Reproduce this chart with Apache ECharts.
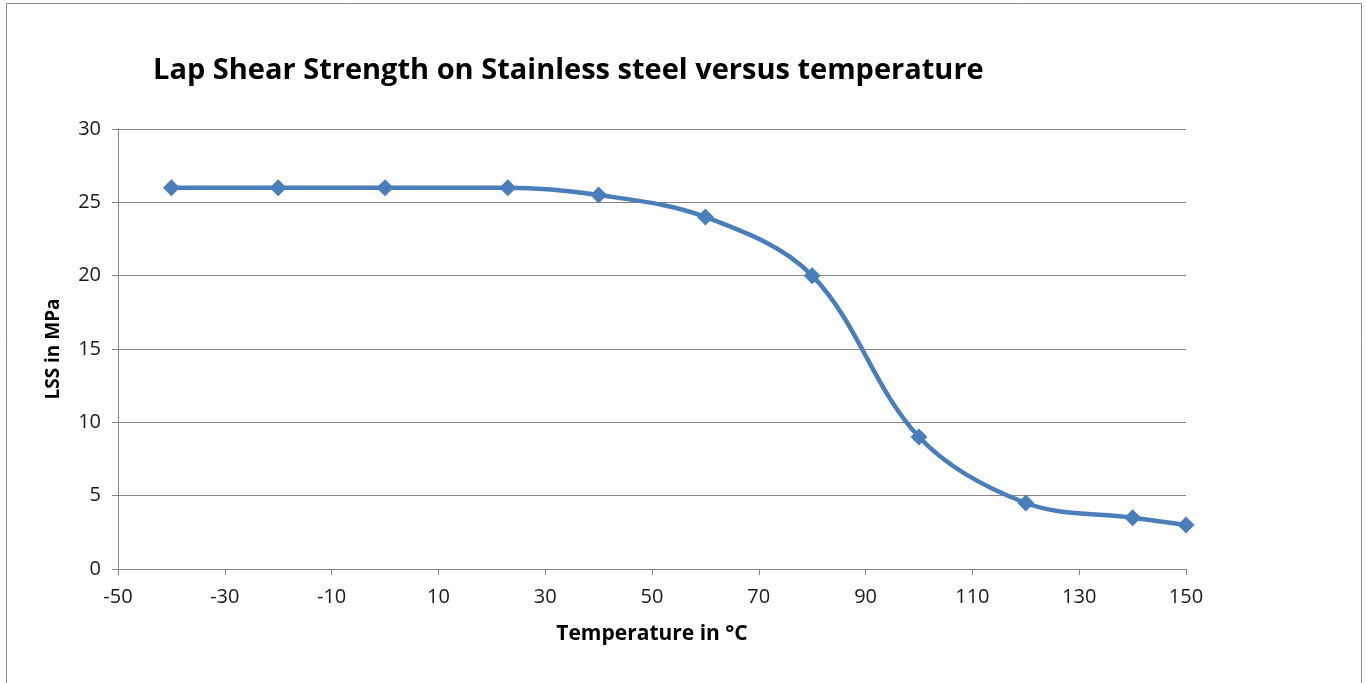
<!DOCTYPE html>
<html><head><meta charset="utf-8">
<script src="https://cdn.jsdelivr.net/npm/echarts@6/dist/echarts.min.js"></script>
<style>html,body{margin:0;padding:0;background:#fff}#c{width:1366px;height:683px}</style>
</head><body><div id="c"></div>
<script>
const temperatures = [-40, -20, 0, 23, 40, 60, 80, 100, 120, 140, 150];
const lssValues = [26, 26, 26, 26, 25.5, 24, 20, 9, 4.5, 3.5, 3];
const xTicks = {min: -50, max: 150, interval: 20};
const yTicks = {min: 0, max: 30, interval: 5};

const font = '"Open Sans", Lato, sans-serif';
const chart = echarts.init(document.getElementById('c'), null, {renderer: 'canvas'});
chart.setOption({
  backgroundColor: '#fff',
  animation: false,
  title: {
    text: 'Lap Shear Strength on Stainless steel versus temperature',
    left: 148, top: 51,
    textStyle: {fontFamily: font, fontWeight: 'bold', fontSize: 29, color: '#000'}
  },
  graphic: [{type: 'rect', shape: {x: 6.5, y: 3.5, width: 1355, height: 700}, style: {fill: 'none', stroke: '#8c8c8c', lineWidth: 1}, silent: true}],
  grid: {left: 118, right: 180, top: 129, bottom: 114, containLabel: false},
  xAxis: {
    type: 'value', min: xTicks.min, max: xTicks.max, interval: xTicks.interval,
    name: 'Temperature in °C', nameLocation: 'middle', nameGap: 55,
    nameTextStyle: {fontFamily: font, fontWeight: 'bold', fontSize: 21, color: '#000'},
    axisLine: {show: true, onZero: false, lineStyle: {color: '#868686', width: 1}},
    axisTick: {show: true, length: 6, lineStyle: {color: '#868686'}},
    axisLabel: {margin: 18, fontFamily: font, fontSize: 20, color: '#1a1a1a'},
    splitLine: {show: false}
  },
  yAxis: {
    type: 'value', min: yTicks.min, max: yTicks.max, interval: yTicks.interval,
    name: 'LSS in MPa', nameLocation: 'middle', nameGap: 55,
    nameTextStyle: {fontFamily: font, fontWeight: 'bold', fontSize: 19, color: '#000'},
    axisLine: {show: true, onZero: false, lineStyle: {color: '#868686', width: 1}},
    axisTick: {show: true, length: 6, lineStyle: {color: '#868686'}},
    axisLabel: {margin: 17, fontFamily: font, fontSize: 20, color: '#1a1a1a'},
    splitLine: {show: true, lineStyle: {color: '#868686', width: 1}}
  },
  series: [{
    type: 'line',
    data: temperatures.map((t, i) => [t, lssValues[i]]),
    smooth: 0.35,
    symbol: 'diamond', symbolSize: [17, 17],
    lineStyle: {color: '#4A7EBB', width: 4.5},
    itemStyle: {color: '#4A7EBB'}
  }]
});
</script></body></html>
